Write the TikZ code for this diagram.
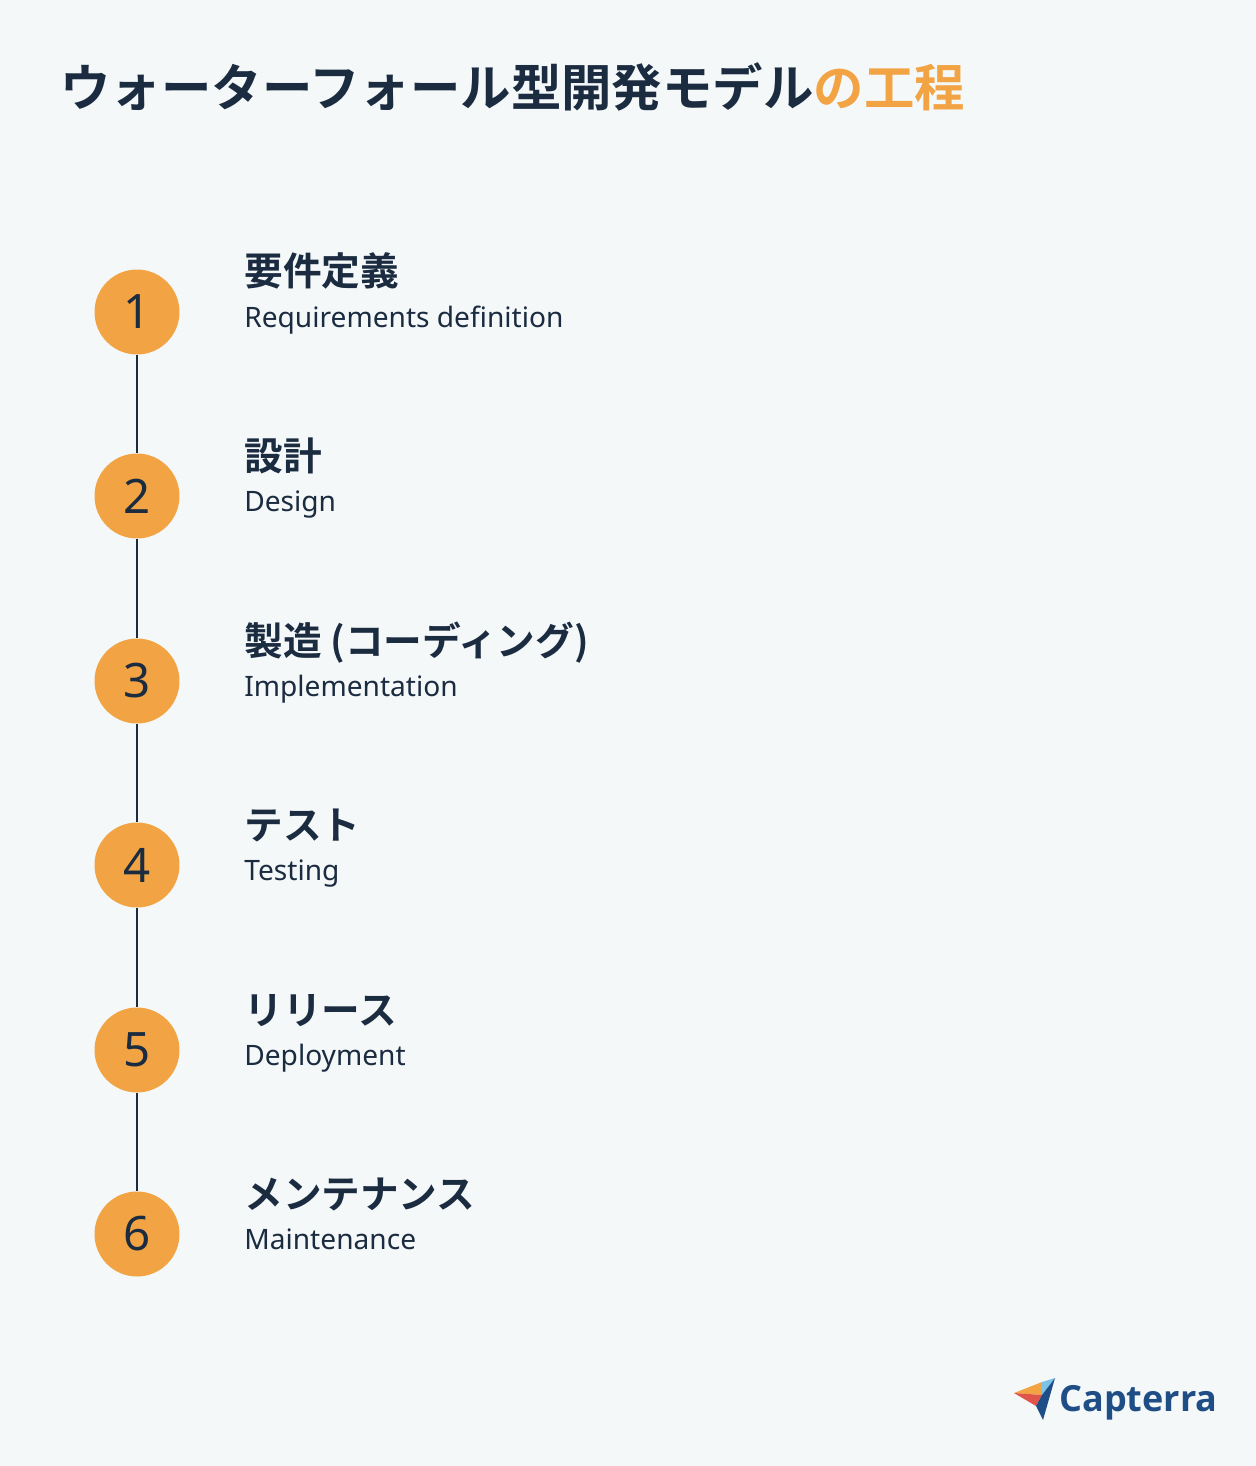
\documentclass[tikz,border=0pt]{standalone}
\usepackage{fontspec}
\setmainfont{Noto Sans}
\newfontfamily\cjk{Noto Sans CJK JP}
\newfontfamily\cjkb{Noto Sans CJK JP Bold}
\newfontfamily\logofont{Open Sans}
\definecolor{bgc}{HTML}{F4F8F9}
\definecolor{navy}{HTML}{1B2B40}
\definecolor{accent}{HTML}{F2A444}
\definecolor{logoblue}{HTML}{1F4E86}
\definecolor{logosky}{HTML}{7CC3EA}
\definecolor{logored}{HTML}{E0554A}
\begin{document}
\begin{tikzpicture}[x=0.02cm,y=-0.02cm]
    \tikzstyle{place}=[circle, fill=accent, minimum size=1.7cm, inner sep=0pt, text=navy, font=\fontsize{27}{27}\selectfont]
    \tikzstyle{head}=[anchor=base west, inner sep=0pt, text=navy, font=\cjkb\fontsize{22}{22}\selectfont]
    \tikzstyle{sub}=[anchor=base west, inner sep=0pt, text=navy, font=\fontsize{16}{16}\selectfont]

    \fill[bgc] (0,0) rectangle (1256,1466);
    \useasboundingbox (0,0) rectangle (1256,1466);

    % Title
    \node[anchor=base west, inner sep=0pt, text=navy, font=\cjkb\fontsize{28.7}{28.7}\selectfont] (title) at (60,107)
        {ウォーターフォール型開発モデル\textcolor{accent}{の工程}};

    % Steps
    \node at (137,312) [place] (s1) {1};
    \node at (137,496) [place] (s2) {2};
    \node at (137,681) [place] (s3) {3};
    \node at (137,865) [place] (s4) {4};
    \node at (137,1050) [place] (s5) {5};
    \node at (137,1234) [place] (s6) {6};

    \foreach \a/\b in {s1/s2,s2/s3,s3/s4,s4/s5,s5/s6}
        \draw[navy, line width=1.2pt] (\a) -- (\b);

    \node[head] (h1) at (244,286) {要件定義};
    \node[sub] (e1) at (244,327) {Requirements definition};
    \node[head] (h2) at (244,470) {設計};
    \node[sub] (e2) at (244,511) {Design};
    \node[head] (h3) at (244,655) {製造 (コーディング)};
    \node[sub] (e3) at (244,696) {Implementation};
    \node[head] (h4) at (244,839) {テスト};
    \node[sub] (e4) at (244,880) {Testing};
    \node[head] (h5) at (244,1024) {リリース};
    \node[sub] (e5) at (244,1065) {Deployment};
    \node[head] (h6) at (244,1208) {メンテナンス};
    \node[sub] (e6) at (244,1249) {Maintenance};

    % Logo
    \fill[accent] (1014,1393) -- (1042,1382) -- (1042,1395) -- cycle;
    \fill[logored] (1014,1393) -- (1042,1395) -- (1036,1406) -- cycle;
    \fill[logosky] (1042,1382) -- (1055,1378) -- (1042,1395) -- cycle;
    \fill[logoblue] (1042,1395) -- (1055,1378) -- (1043,1420) -- (1036,1406) -- cycle;
    \node[anchor=base west, inner sep=0pt, text=logoblue, font=\logofont\bfseries\fontsize{20.5}{20.5}\selectfont] (logo) at (1059,1411) {Capterra};
\end{tikzpicture}
\end{document}
